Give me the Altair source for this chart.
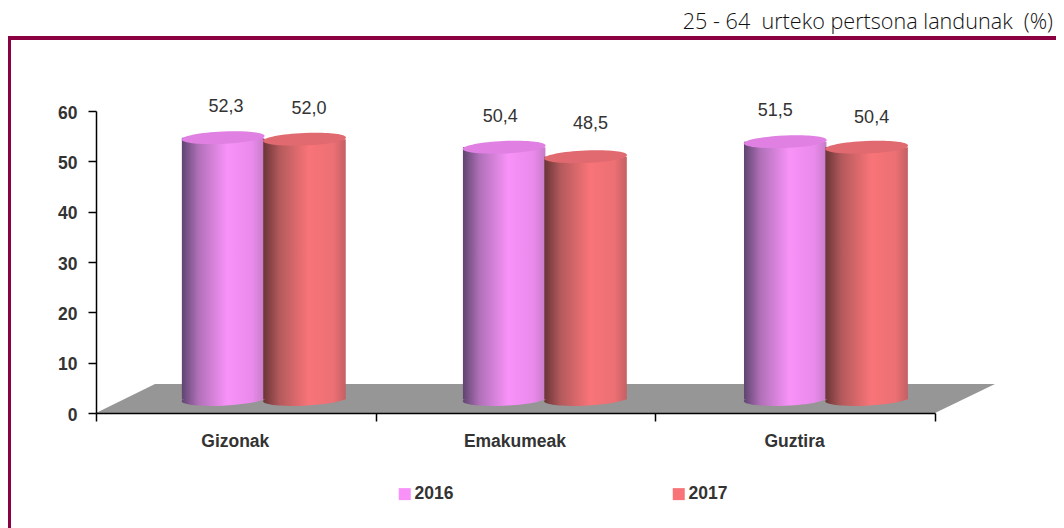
import altair as alt
import pandas as pd

categories = ["Gizonak", "Emakumeak", "Guztira"]
series = ["2016", "2017"]
values_2016 = [52.3, 50.4, 51.5]
values_2017 = [52.0, 48.5, 50.4]
floor_y = [0, 5.76]
floor_x_start = [0, 0.211]
floor_x_end = [3, 3.2145]

DEPTH = 2.4          # the 3D top sits this far up the value axis
BASE = 2.7           # centre of the cylinder's foot
GROUP_CENTER = 0.6   # cylinders are shifted inside each category
GROUP_STEP = 1.005
SPREAD = 0.1455
HALF = 0.1475
FONT = "Liberation Sans"
TEXT = "#333333"
MAROON = "#8b0040"

def frame(vals, idx):
    rows = []
    for i, v in enumerate(vals):
        c = i * GROUP_STEP + GROUP_CENTER + idx * SPREAD
        rows.append(dict(cat=categories[i], year=series[0 if idx < 0 else 1], value=v,
                         label=f"{v:.1f}".replace(".", ","),
                         center=c, x0=c - HALF, x1=c + HALF,
                         top=v + DEPTH, base=BASE))
    return pd.DataFrame(rows)

d16 = frame(values_2016, -1)
d17 = frame(values_2017, 1)
floor = pd.DataFrame({"y": floor_y, "x": floor_x_start, "x2": floor_x_end})
legend_df = pd.concat([d16, d17])

XS = alt.Scale(domain=[0, 3], nice=False, zero=False)
YS = alt.Scale(domain=[0, 60], nice=False)

def grad(stops):
    return alt.LinearGradient(gradient="linear", x1=0, x2=1, y1=0, y2=0,
                              stops=[alt.GradientStop(offset=o, color=c) for o, c in stops])

G16 = grad([(0, "#5f4470"), (0.2, "#b070b8"), (0.55, "#f892f8"), (0.85, "#ea8aec"), (1, "#c67cc8")])
G17 = grad([(0, "#6a3436"), (0.2, "#b45a5c"), (0.55, "#f87478"), (0.85, "#ec7074"), (1, "#c46064")])

ELLIPSE = "M-1,0A1,0.15 0 1,1 1,0A1,0.15 0 1,1 -1,0Z"
ESIZE = 83 ** 2

x_axis = alt.Axis(
    values=[0, 1, 2, 3], title=None, grid=False, domainColor="#000000", domainWidth=1.5,
    tickColor="#000000", tickWidth=1.5, tickSize=8, labelFont=FONT, labelFontSize=17.5,
    labelFontWeight="bold", labelColor=TEXT, labelPadding=11, labelOffset=138.8,
    labelFlush=False, labelOverlap=False, zindex=1,
    labelExpr="['Gizonak','Emakumeak','Guztira',''][datum.value]")
y_axis = alt.Axis(
    values=[0, 10, 20, 30, 40, 50, 60], title=None, grid=False, domainColor="#000000",
    domainWidth=1.5, tickColor="#000000", tickWidth=1.5, tickSize=8, labelFont=FONT,
    labelFontSize=17.5, labelFontWeight="bold", labelColor=TEXT, labelPadding=11,
    labelOffset=2, zindex=1)

x_plain = lambda f: alt.X(f, type="quantitative", scale=XS, axis=x_axis)
y_plain = lambda f: alt.Y(f, type="quantitative", scale=YS, axis=y_axis)

floor_layer = alt.Chart(floor).mark_area(orient="horizontal", color="#969696", opacity=1).encode(
    x=x_plain("x"), x2="x2:Q", y=y_plain("y"),
)

def cylinder(df, gradient, top_color, shifts):
    bottom = alt.Chart(df).mark_point(shape=ELLIPSE, filled=True, fill=gradient, size=ESIZE,
                                      opacity=1, angle=357.5, strokeWidth=0).encode(
        x=x_plain("center"), y=y_plain("base"))
    body = alt.Chart(df).mark_bar(fill=gradient, opacity=1).encode(
        x=x_plain("x0"), x2="x1:Q", y=y_plain("top"), y2="base:Q")
    top = alt.Chart(df).mark_point(shape=ELLIPSE, filled=True, fill=top_color, size=ESIZE,
                                   opacity=1, angle=357.5, strokeWidth=0).encode(
        x=x_plain("center"), y=y_plain("top"))
    labels = [
        alt.Chart(df.iloc[[i]]).mark_text(font=FONT, fontSize=18, color=TEXT, dx=dx, dy=dy).encode(
            x=x_plain("center"), y=y_plain("top"), text="label:N")
        for i, (dx, dy) in enumerate(shifts)
    ]
    return [bottom, body, top, *labels]

legend_layer = alt.Chart(legend_df).mark_point(size=0, filled=True, opacity=0).encode(
    x=x_plain("center"), y=y_plain("top"),
    color=alt.Color("year:N", scale=alt.Scale(domain=series, range=["#f892f8", "#f87478"]),
                    legend=alt.Legend(orient="none", legendX=300, legendY=374, direction="horizontal",
                                      columns=2, columnPadding=216, title=None, symbolType="square",
                                      symbolSize=144, symbolOpacity=1, symbolStrokeWidth=0,
                                      labelFont=FONT, labelFontSize=17.5, labelFontWeight="bold",
                                      labelColor=TEXT, labelOffset=1)),
)

rule_top = alt.Chart(floor).mark_rule(color=MAROON, strokeWidth=4).encode(
    x=alt.value(-88), x2=alt.value(960), y=alt.value(-73))
rule_left = alt.Chart(floor).mark_rule(color=MAROON, strokeWidth=4).encode(
    x=alt.value(-87), y=alt.value(-75), y2=alt.value(417))

chart = alt.layer(
    floor_layer,
    *cylinder(d16, G16, "#e080e2", [(3, -31), (-4, -30), (-10, -31)]),
    *cylinder(d17, G17, "#e06a70", [(4.5, -30), (5, -33), (5, -29)]),
    legend_layer, rule_top, rule_left,
).properties(
    width=839, height=302,
    padding={"left": 88, "top": 103, "right": 121, "bottom": 115},
    autosize=alt.AutoSizeParams(type="none"),
    background="white",
    title=alt.TitleParams(
        "25 - 64 \u00a0urteko pertsona landunak \u00a0(%)", anchor="end", frame="group", orient="top",
        font="Open Sans", fontSize=21.6, fontWeight=300, color="#111111", offset=0, dx=118,
    ),
).configure_view(stroke=None)

chart.save("out.html", embed_options={"renderer": "svg", "actions": False})
